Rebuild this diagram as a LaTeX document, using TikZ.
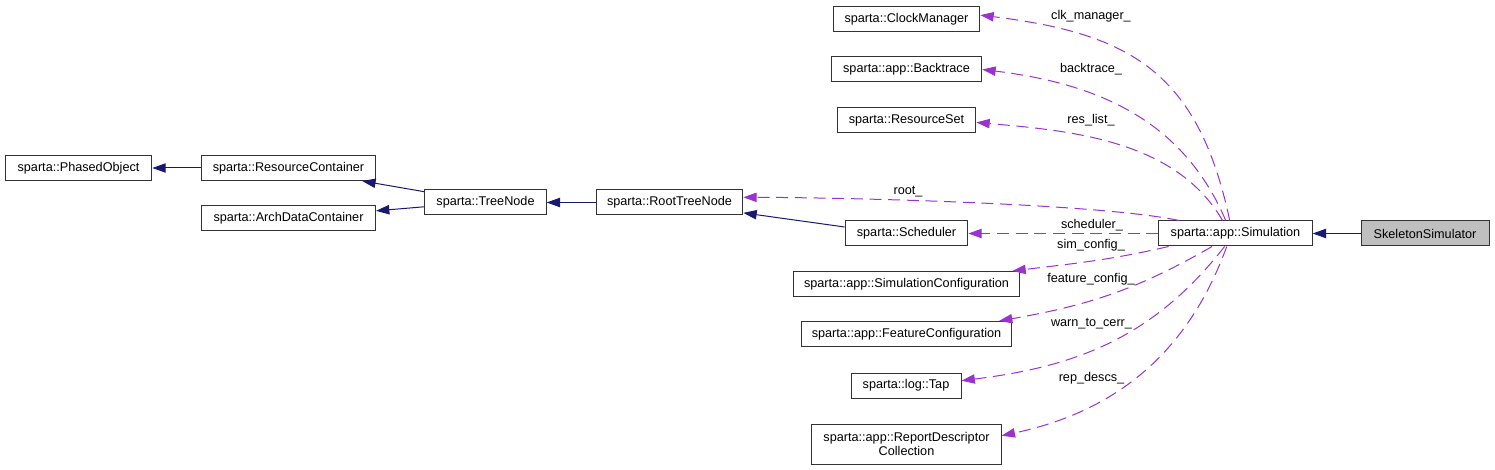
\documentclass[tikz,border=0pt]{standalone}
\usepackage{fontspec}
\setmainfont{Liberation Sans}
\usepackage{xcolor}
\usepackage{tikz}
\usetikzlibrary{arrows.meta}

\definecolor{inhblue}{HTML}{191970}
\definecolor{usepurple}{HTML}{9A32CD}

\begin{document}
\begin{tikzpicture}[x=0.75pt, y=-0.75pt,
  every node/.style={font=\fontsize{9.5}{10.5}\selectfont},
  cls/.style={draw=black!80, line width=0.75pt, minimum height=18.75pt, inner xsep=3pt, inner ysep=1pt, align=center},
  inh/.style={-{Triangle[length=10pt,width=7pt]}, draw=inhblue, line width=0.75pt},
  use/.style={-{Triangle[length=10pt,width=7pt]}, draw=usepurple, line width=0.75pt, dash pattern=on 9pt off 5pt},
  lbl/.style={inner sep=0pt}]
  \useasboundingbox (0,0) rectangle (1495,470);

  \node[cls,minimum width=110pt] (po) at (78.5,168) {sparta::PhasedObject};
  \node[cls,minimum width=130.5pt] (rc) at (288.5,168) {sparta::ResourceContainer};
  \node[cls,minimum width=130.5pt] (adc) at (288.5,218.5) {sparta::ArchDataContainer};
  \node[cls,minimum width=91pt] (tn) at (485.5,202.5) {sparta::TreeNode};
  \node[cls,minimum width=110pt] (rtn) at (669.5,202.5) {sparta::RootTreeNode};

  \node[cls,minimum width=110pt] (cm) at (906.5,19) {sparta::ClockManager};
  \node[cls,minimum width=113pt] (bt) at (906.5,69.5) {sparta::app::Backtrace};
  \node[cls,minimum width=104pt] (rs) at (906.5,120) {sparta::ResourceSet};
  \node[cls,minimum width=92pt] (sch) at (906.5,233.5) {sparta::Scheduler};
  \node[cls,minimum width=170pt] (sc) at (906.5,284) {sparta::app::SimulationConfiguration};
  \node[cls,minimum width=158pt] (fc) at (906.5,334) {sparta::app::FeatureConfiguration};
  \node[cls,minimum width=82.5pt] (tap) at (906,385.5) {sparta::log::Tap};
  \node[cls,minimum width=142pt,minimum height=30pt] (rdc) at (906.5,444)
    {sparta::app::ReportDescriptor\\Collection};

  \node[cls,minimum width=115pt] (sim) at (1235.5,233.5) {sparta::app::Simulation};
  \node[cls,minimum width=96pt,fill=black!25] (sk) at (1425,233.5) {SkeletonSimulator};

  \draw[inh](rc.west)--(po.east);
  \draw[inh](tn.170)--(rc.350);
  \draw[inh](tn.184)--(adc.5);
  \draw[inh](rtn.west)--(tn.east);
  \draw[inh](sch.174)--(rtn.352);
  \draw[inh](sk.west)--(sim.east);

  \draw[use](sim.114) to[out=102,in=-7,looseness=1.2] (cm.3);
  \draw[use](sim.127) to[out=113,in=-7] (bt.east);
  \draw[use](sim.135) to[out=120,in=-5,looseness=0.9] (rs.358);
  \draw[use](sim.167) to[out=168,in=0,looseness=0.5] (rtn.4);
  \draw[use](sim.west)--(sch.east);
  \draw[use](sim.191) to[out=193,in=7] (sc.7);
  \draw[use](sim.209) to[out=210,in=10] (fc.8);
  \draw[use](sim.230) to[out=232,in=7] (tap.5);
  \draw[use](sim.236) to[out=250,in=12] (rdc.5);

  \node[lbl] (lcm) at (1091,16.5) {clk\_manager\_};
  \node[lbl] (lbt) at (1091,69) {backtrace\_};
  \node[lbl] (lrs) at (1091,120) {res\_list\_};
  \node[lbl] (lrtn) at (908,191.5) {root\_};
  \node[lbl] (lsch) at (1092,225.5) {scheduler\_};
  \node[lbl] (lsc) at (1091,245.5) {sim\_config\_};
  \node[lbl] (lfc) at (1091,279) {feature\_config\_};
  \node[lbl] (ltap) at (1091.5,324) {warn\_to\_cerr\_};
  \node[lbl] (lrdc) at (1091.5,378.5) {rep\_descs\_};
\end{tikzpicture}
\end{document}
